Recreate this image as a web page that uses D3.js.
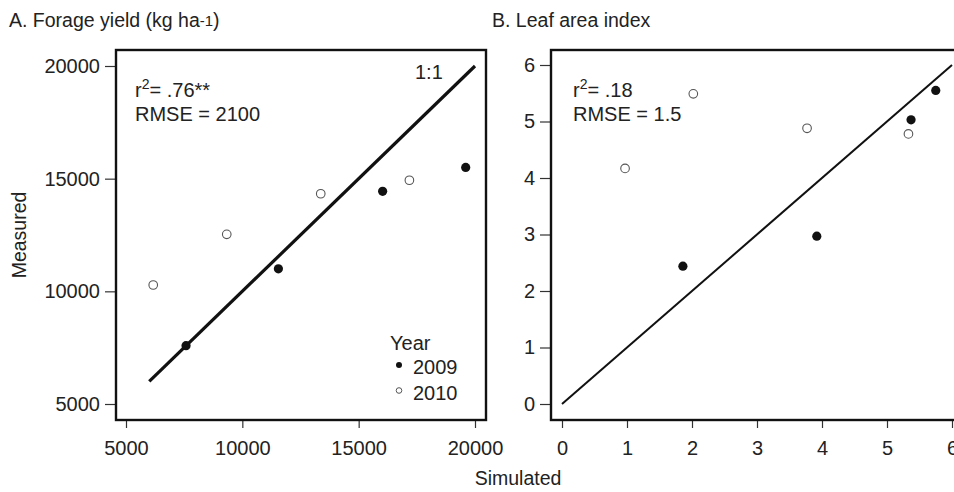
<!DOCTYPE html>
<html>
<head>
<meta charset="utf-8">
<script src="https://cdn.jsdelivr.net/npm/d3@7"></script>
<style>
  html, body { margin: 0; padding: 0; background: #fff; }
  svg { display: block; font-family: "Liberation Sans", Arial, sans-serif; }
  .tick text { font-size: 20px; fill: #222; }
  .tick line { stroke: #333; stroke-width: 1.2; }
</style>
</head>
<body>
<svg id="chart" width="954" height="492"></svg>
<script>
// Panel A: forage yield (kg ha-1), simulated vs measured
const yieldSim2009 = [7580, 11550, 16030, 19600];
const yieldObs2009 = [7590, 11000, 14440, 15500];
const yieldSim2010 = [6170, 9330, 13370, 17180];
const yieldObs2010 = [10280, 12530, 14330, 14930];
const yieldTicks = [5000, 10000, 15000, 20000];
const yieldOneToOne = [6000, 20000];

// Panel B: leaf area index, simulated vs measured
const laiSim2009 = [1.86, 3.92, 5.37, 5.75];
const laiObs2009 = [2.44, 2.97, 5.03, 5.55];
const laiSim2010 = [0.97, 2.02, 3.77, 5.33];
const laiObs2010 = [4.17, 5.49, 4.88, 4.78];
const laiTicks = [0, 1, 2, 3, 4, 5, 6];
const laiOneToOne = [0, 6];

const legendYears = ["2009", "2010"];

const svg = d3.select("#chart");

function panel(cfg) {
  const g = svg.append("g");
  const x = d3.scaleLinear().domain(cfg.domain).range(cfg.xRange);
  const y = d3.scaleLinear().domain(cfg.domain).range(cfg.yRange);

  // x axis
  g.append("g")
    .attr("transform", `translate(0,${cfg.frame.y1})`)
    .call(d3.axisBottom(x).tickValues(cfg.ticks).tickSize(8).tickPadding(13).tickFormat(d3.format("d")))
    .call(a => a.select(".domain").remove());

  // y axis
  g.append("g")
    .attr("transform", `translate(${cfg.frame.x0},0)`)
    .call(d3.axisLeft(y).tickValues(cfg.ticks).tickSize(11).tickPadding(5).tickFormat(d3.format("d")))
    .call(a => a.select(".domain").remove());

  // 1:1 line
  g.append("line")
    .attr("x1", x(cfg.line[0])).attr("y1", y(cfg.line[0]))
    .attr("x2", x(cfg.line[1])).attr("y2", y(cfg.line[1]))
    .attr("stroke", "#111").attr("stroke-width", cfg.lineWidth)
    .attr("stroke-linecap", "butt");

  // points
  const d2009 = cfg.sim2009.map((s, i) => [s, cfg.obs2009[i]]);
  const d2010 = cfg.sim2010.map((s, i) => [s, cfg.obs2010[i]]);
  g.selectAll(".p2010").data(d2010).join("circle")
    .attr("cx", d => x(d[0])).attr("cy", d => y(d[1])).attr("r", 4.3)
    .attr("fill", "#fff").attr("stroke", "#555").attr("stroke-width", 1.1);
  g.selectAll(".p2009").data(d2009).join("circle")
    .attr("cx", d => x(d[0])).attr("cy", d => y(d[1])).attr("r", 4.6)
    .attr("fill", "#111");

  // frame
  g.append("rect")
    .attr("x", cfg.frame.x0).attr("y", cfg.frame.y0)
    .attr("width", cfg.frame.x1 - cfg.frame.x0).attr("height", cfg.frame.y1 - cfg.frame.y0)
    .attr("fill", "none").attr("stroke", "#111").attr("stroke-width", 2.4);

  // title
  const t = g.append("text").attr("x", cfg.titleX).attr("y", 27)
    .attr("font-size", 19.5).attr("fill", "#222");
  t.append("tspan").text(cfg.title);
  if (cfg.titleSup) t.append("tspan").attr("font-size", 15).attr("dy", -1).text(cfg.titleSup);
  if (cfg.titleEnd) t.append("tspan").attr("dy", 1).text(cfg.titleEnd);

  // statistics
  const st = g.append("text").attr("x", cfg.statX).attr("y", 97)
    .attr("font-size", 20).attr("fill", "#222");
  st.append("tspan").text("r");
  st.append("tspan").attr("font-size", 14).attr("dy", -8).text("2");
  st.append("tspan").attr("dy", 8).text("= " + cfg.r2);
  g.append("text").attr("x", cfg.statX).attr("y", 121)
    .attr("font-size", 20).attr("fill", "#222").text("RMSE = " + cfg.rmse);

  return { g, x, y };
}

const A = panel({
  domain: [5000, 20000], xRange: [126, 475], yRange: [404, 66],
  frame: { x0: 116, x1: 486, y0: 50, y1: 420 },
  ticks: yieldTicks, line: yieldOneToOne, lineWidth: 3.2,
  sim2009: yieldSim2009, obs2009: yieldObs2009, sim2010: yieldSim2010, obs2010: yieldObs2010,
  title: "A. Forage yield (kg ha", titleSup: "-1", titleEnd: ")", titleX: 9,
  statX: 135, r2: ".76**", rmse: "2100"
});

const B = panel({
  domain: [0, 6], xRange: [562, 952], yRange: [404, 65],
  frame: { x0: 551, x1: 964, y0: 50, y1: 420 },
  ticks: laiTicks, line: laiOneToOne, lineWidth: 2,
  sim2009: laiSim2009, obs2009: laiObs2009, sim2010: laiSim2010, obs2010: laiObs2010,
  title: "B. Leaf area index", titleX: 492,
  statX: 573, r2: ".18", rmse: "1.5"
});

// 1:1 label
A.g.append("text").attr("x", 415).attr("y", 79).attr("font-size", 20).attr("fill", "#222").text("1:1");

// legend
const leg = A.g.append("g");
leg.append("text").attr("x", 390).attr("y", 350).attr("font-size", 20).attr("fill", "#222").text("Year");
legendYears.forEach((yr, i) => {
  const cy = 365 + i * 25.5;
  leg.append("circle").attr("cx", 399).attr("cy", cy).attr("r", i === 0 ? 3 : 2.8)
    .attr("fill", i === 0 ? "#111" : "#fff").attr("stroke", i === 0 ? "none" : "#555").attr("stroke-width", 1);
  leg.append("text").attr("x", 413).attr("y", cy + 9).attr("font-size", 20).attr("fill", "#222").text(yr);
});

// shared axis titles
svg.append("text").attr("x", 518).attr("y", 485).attr("text-anchor", "middle")
  .attr("font-size", 19.5).attr("fill", "#222").text("Simulated");
svg.append("text").attr("transform", "translate(26,235) rotate(-90)").attr("text-anchor", "middle")
  .attr("font-size", 19.5).attr("fill", "#222").text("Measured");
</script>
</body>
</html>
